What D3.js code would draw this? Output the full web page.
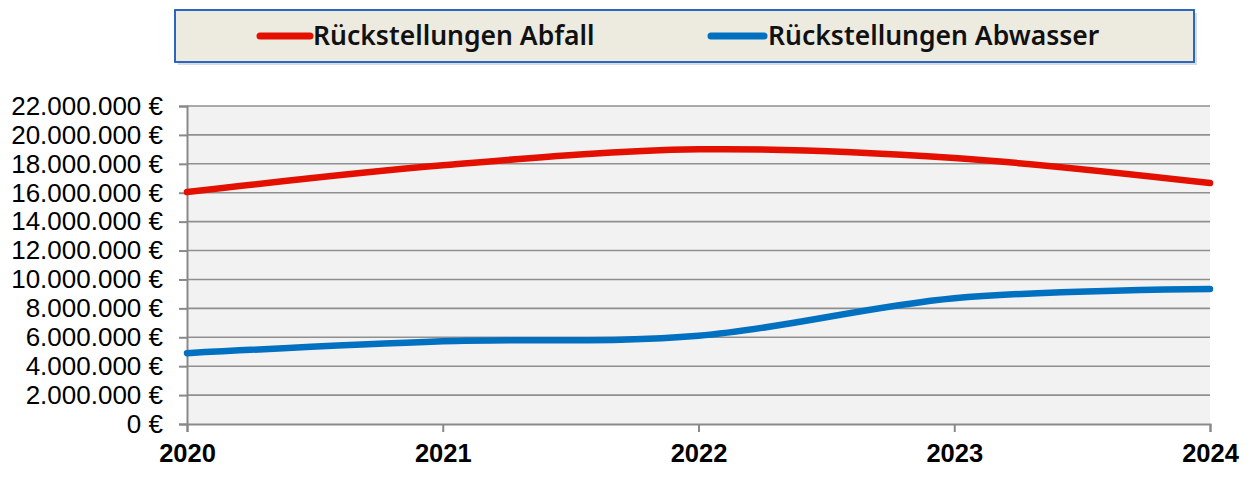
<!DOCTYPE html>
<html><head><meta charset="utf-8">
<script src="https://cdn.jsdelivr.net/npm/d3@7"></script>
<style>body{margin:0;background:#fff}svg{display:block}</style>
</head><body>
<svg id="c" width="1257" height="499"></svg>
<script>
const years = [2020, 2021, 2022, 2023, 2024];
const abfall = [16050000, 17900000, 19000000, 18400000, 16670000];
const abwasser = [4900000, 5720000, 6100000, 8700000, 9340000];
const yTicks = [0,2000000,4000000,6000000,8000000,10000000,12000000,14000000,16000000,18000000,20000000,22000000];
const seriesNames = ["Rückstellungen Abfall", "Rückstellungen Abwasser"];
const colors = ["#e31000", "#0070c0"];

const svg = d3.select("#c");
const L = 187, R = 1210, T = 106, B = 424;
const x = d3.scaleLinear().domain([2020, 2024]).range([L, R]);
const y = d3.scaleLinear().domain([0, 22000000]).range([B, T]);
const fmt = v => d3.format(",")(v).replace(/,/g, ".") + " €";

svg.append("rect").attr("x", L).attr("y", T).attr("width", R - L).attr("height", B - T).attr("fill", "#f2f2f2");

// gridlines
svg.append("g").selectAll("line").data(yTicks.filter(d => d > 0)).join("line")
  .attr("x1", L).attr("x2", R).attr("y1", d => y(d)).attr("y2", d => y(d))
  .attr("stroke", "#8f8f8f").attr("stroke-width", 1.6);

// y axis
const ya = svg.append("g").attr("transform", `translate(${L},0)`)
  .call(d3.axisLeft(y).tickValues(yTicks).tickSize(8).tickPadding(16).tickFormat(fmt));
ya.select(".domain").attr("stroke", "#898989").attr("stroke-width", 2);
ya.selectAll(".tick line").attr("stroke", "#898989").attr("stroke-width", 2);
ya.selectAll("text").attr("font-family", "Liberation Sans, Arial, sans-serif").attr("font-size", 26).attr("fill", "#000");

// x axis
const xa = svg.append("g").attr("transform", `translate(0,${B})`)
  .call(d3.axisBottom(x).tickValues(years).tickSize(8).tickPadding(12).tickFormat(d3.format("d")));
xa.select(".domain").attr("stroke", "#898989").attr("stroke-width", 2);
xa.selectAll(".tick line").attr("stroke", "#898989").attr("stroke-width", 2);
xa.selectAll("text").attr("font-family", "Liberation Sans, Arial, sans-serif").attr("font-size", 25.5)
  .attr("font-weight", "bold").attr("fill", "#000");

// lines
const line = d3.line().x((d, i) => x(years[i])).y(d => y(d)).curve(d3.curveCardinal.tension(0));
[abfall, abwasser].forEach((s, i) => {
  svg.append("path").datum(s).attr("d", line).attr("fill", "none")
    .attr("stroke", colors[i]).attr("stroke-width", 6.5).attr("stroke-linecap", "round");
});

// legend
const lg = svg.append("g");
lg.append("rect").attr("x", 178).attr("y", 13).attr("width", 1019).attr("height", 52).attr("fill", "#b8b8b8").attr("opacity", 0.5);
lg.append("rect").attr("x", 175).attr("y", 10).attr("width", 1019).attr("height", 52)
  .attr("fill", "#edebe0").attr("stroke", "#1559c0").attr("stroke-width", 1.8);
const legX = [[260, 310, 313], [711, 764, 768]];
seriesNames.forEach((n, i) => {
  lg.append("line").attr("x1", legX[i][0]).attr("x2", legX[i][1]).attr("y1", 36).attr("y2", 36)
    .attr("stroke", colors[i]).attr("stroke-width", 7).attr("stroke-linecap", "round");
  lg.append("text").attr("x", legX[i][2]).attr("y", 45).text(n)
    .attr("font-family", "Noto Sans, sans-serif").attr("font-weight", 600).attr("font-size", 26.5).attr("fill", "#111");
});
</script>
</body></html>
